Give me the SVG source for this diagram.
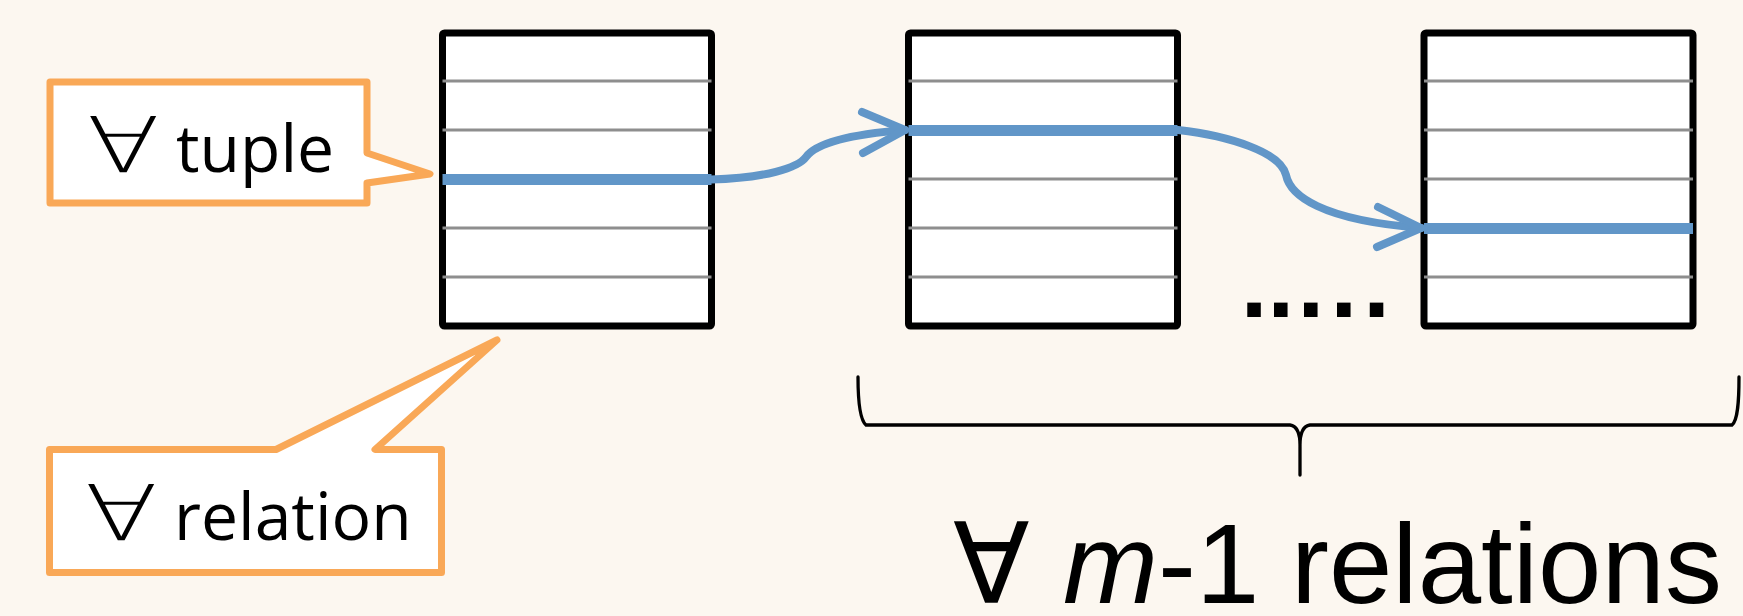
<svg xmlns="http://www.w3.org/2000/svg" width="1743" height="616" viewBox="0 0 1743 616">
<style>
.bg{fill:#FCF7F0}
.box{fill:#FFFFFF;stroke:#000000;stroke-width:7;stroke-linejoin:round}
.row{stroke:#8E8E8E;stroke-width:3}
.hit{stroke:#6196C8;stroke-width:11}
.call{fill:#FFFFFF;stroke:#F9A857;stroke-width:7;stroke-linejoin:round}
.lbl{font-family:"Open Sans","Noto Sans",sans-serif;font-size:66px;fill:#000}
.fa{font-family:"DejaVu Sans",sans-serif;font-size:77px;font-weight:200;fill:#000}
.con{fill:none;stroke:#6196C8;stroke-width:8;stroke-linecap:round;stroke-linejoin:round}
.brace{fill:none;stroke:#000;stroke-width:3.3;stroke-linecap:round}
.big{font-family:"Liberation Sans",Arial,sans-serif;font-size:114px;fill:#000}
.dots{font-family:"Liberation Sans",Arial,sans-serif;font-size:96px;font-weight:bold;fill:#000}
</style>
<rect class="bg" x="0" y="0" width="1743" height="616"/>

<g id="relation1">
<rect class="box" x="442.5" y="33" width="269" height="293" rx="2"/>
<line class="row" x1="442.5" y1="81" x2="711.5" y2="81"/>
<line class="row" x1="442.5" y1="130" x2="711.5" y2="130"/>
<line class="hit" x1="442.5" y1="179.5" x2="711.5" y2="179.5"/>
<line class="row" x1="442.5" y1="228" x2="711.5" y2="228"/>
<line class="row" x1="442.5" y1="277" x2="711.5" y2="277"/>
</g>

<g id="relation2">
<rect class="box" x="908.5" y="33" width="269" height="293" rx="2"/>
<line class="row" x1="908.5" y1="81" x2="1177.5" y2="81"/>
<line class="hit" x1="908.5" y1="130.5" x2="1177.5" y2="130.5"/>
<line class="row" x1="908.5" y1="179" x2="1177.5" y2="179"/>
<line class="row" x1="908.5" y1="228" x2="1177.5" y2="228"/>
<line class="row" x1="908.5" y1="277" x2="1177.5" y2="277"/>
</g>

<g id="relation3">
<rect class="box" x="1424" y="33" width="269" height="293" rx="2"/>
<line class="row" x1="1424" y1="81" x2="1693" y2="81"/>
<line class="row" x1="1424" y1="130" x2="1693" y2="130"/>
<line class="row" x1="1424" y1="179" x2="1693" y2="179"/>
<line class="hit" x1="1424" y1="228.5" x2="1693" y2="228.5"/>
<line class="row" x1="1424" y1="277" x2="1693" y2="277"/>
</g>

<g id="ellipsis">
<text class="dots" x="1240.8 1267.5 1297.5 1330.5 1363.2" y="316.7">.....</text>
</g>

<g id="callout-tuple">
<path class="call" d="M50,82 H367 V153 L430,174 L367,183 V203 H50 Z"/>
<text class="fa" transform="translate(87,172) scale(1.38,1)">∀</text>
<text class="lbl" x="176" y="172">tuple</text>
</g>

<g id="callout-relation">
<path class="call" d="M49.5,449.5 H276 L497,340 L375,449.5 H441.5 V572.5 H49.5 Z"/>
<text class="fa" transform="translate(85,540) scale(1.38,1)">∀</text>
<text class="lbl" x="174" y="540">relation</text>
</g>

<g id="connectors">
<path class="con" d="M711,179.5 C765,178 798,168 806,157 C814,146 840,135 905,130"/>
<polyline class="con" points="862,112 905,130 863,153"/>
<path class="con" d="M1178,130 C1230,136 1280,152 1286,175 C1290,195 1320,220 1421,228"/>
<polyline class="con" points="1378,207 1421,228 1377,247"/>
</g>

<g id="brace">
<path class="brace" d="M858,377 C858,400 860,420 866,425 L1290,425 C1297,426 1300,432 1300,445 L1300,475 M1300,445 C1300,432 1303,426 1310,425 L1732,425 C1738,420 1739,400 1739,377"/>
</g>

<g id="label-m1">
<text class="big" y="603"><tspan font-family="DejaVu Sans,sans-serif" x="953" font-size="112">∀</tspan> <tspan x="1063" font-style="italic">m</tspan>-1 relations</text>
</g>
</svg>
